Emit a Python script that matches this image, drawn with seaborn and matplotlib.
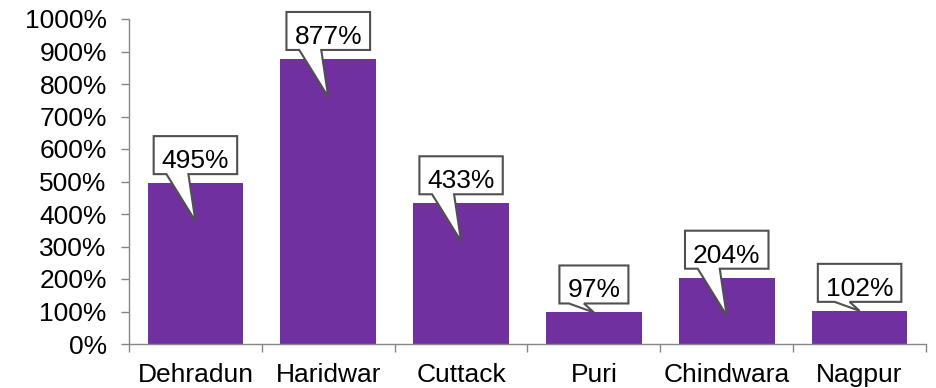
import numpy as np
import pandas as pd
import matplotlib
matplotlib.use("Agg")
import matplotlib.pyplot as plt
import matplotlib.transforms as mtransforms
from matplotlib.patches import Polygon
import seaborn as sns

# ---- data ----
cities = ["Dehradun", "Haridwar", "Cuttack", "Puri", "Chindwara", "Nagpur"]
growth_pct = [495, 877, 433, 97, 204, 102]
y_ticks = [0, 100, 200, 300, 400, 500, 600, 700, 800, 900, 1000]
y_tick_labels = [f"{t}%" for t in y_ticks]
callout_labels = [f"{v}%" for v in growth_pct]

# ---- style ----
sns.set_theme(style="ticks")
plt.rcParams["font.family"] = ["Liberation Sans", "DejaVu Sans"]
BAR = "#7030A0"
AXIS = "#868686"
EDGE = "#505050"
FS = 19

fig = plt.figure(figsize=(9.36, 3.88), dpi=100)
ax = fig.add_axes([129 / 936, 44 / 388, 797 / 936, 325 / 388])

df = pd.DataFrame({"city": cities, "pct": growth_pct})
sns.barplot(data=df, x="city", y="pct", color=BAR, saturation=1, width=0.72,
            edgecolor="none", linewidth=0, ax=ax)

ax.set_xlim(-0.5, len(cities) - 0.5)
ax.set_ylim(0, 1000)
ax.set_yticks(y_ticks)
ax.set_yticklabels(y_tick_labels)
ax.set_xticks(range(len(cities)))
ax.set_xticklabels(cities)
ax.set_xticks(np.arange(-0.5, len(cities), 1), minor=True)
ax.set_xlabel("")
ax.set_ylabel("")

ax.tick_params(axis="x", which="major", length=0, pad=14, labelsize=FS, labelcolor="black")
ax.tick_params(axis="x", which="minor", length=6, width=1, color=AXIS, direction="out")
ax.tick_params(axis="y", length=6, width=1, color=AXIS, direction="out",
               labelsize=FS, labelcolor="black", pad=10)
for s in ["top", "right"]:
    ax.spines[s].set_visible(False)
for s in ["left", "bottom"]:
    ax.spines[s].set_color(AXIS)
    ax.spines[s].set_linewidth(1)

# ---- callouts (pixel offsets relative to the bar top) ----
fig.canvas.draw()
renderer = fig.canvas.get_renderer()
px_per_unit = ax.bbox.height / 1000.0
for i, (v, lab) in enumerate(zip(growth_pct, callout_labels)):
    tr = mtransforms.ScaledTranslation(i, v, ax.transData)
    t = ax.text(0, 15, lab, transform=tr, ha="center", va="baseline",
                fontsize=FS, color="black", zorder=6, clip_on=False)
    w = t.get_window_extent(renderer).width + 16
    half = w / 2
    yb, yt = 9, 47
    if v * px_per_unit > 60:
        depth, bl, br = 38, -29, -7
    else:
        depth, bl, br = 0, -25, -10
    pts = [(-half, yb), (-half, yt), (half, yt), (half, yb),
           (br, yb), (0, -depth), (bl, yb)]
    poly = Polygon(pts, closed=True, transform=tr, facecolor="white",
                   edgecolor=EDGE, linewidth=1.5, zorder=5, clip_on=False,
                   joinstyle="miter")
    ax.add_patch(poly)

ax.set_xlim(-0.5, len(cities) - 0.5)
ax.set_ylim(0, 1000)
fig.savefig("out.png", dpi=100)
